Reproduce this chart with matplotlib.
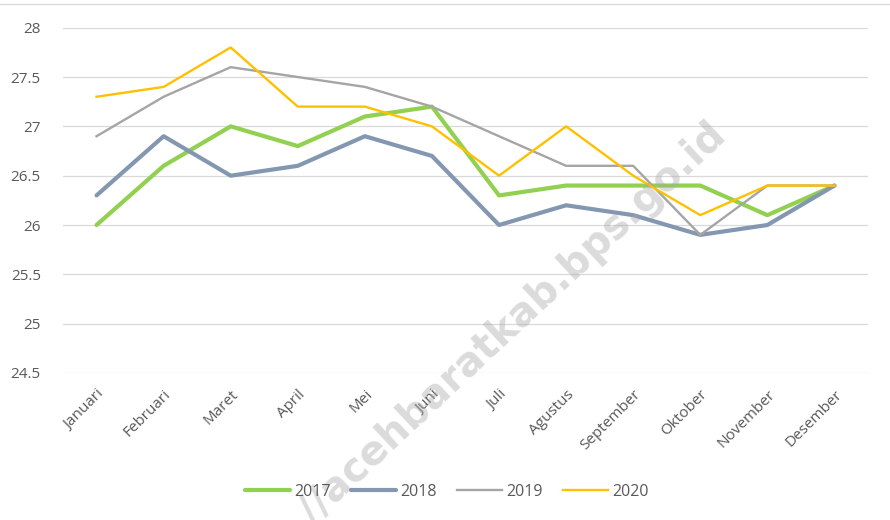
import numpy as np
import matplotlib.pyplot as plt
from matplotlib.lines import Line2D

plt.rcParams['font.family'] = ['Open Sans', 'DejaVu Sans']

months = ["Januari", "Februari", "Maret", "April", "Mei", "Juni", "Juli",
          "Agustus", "September", "Oktober", "November", "Desember"]
y2017 = [26.0, 26.6, 27.0, 26.8, 27.1, 27.2, 26.3, 26.4, 26.4, 26.4, 26.1, 26.4]
y2018 = [26.3, 26.9, 26.5, 26.6, 26.9, 26.7, 26.0, 26.2, 26.1, 25.9, 26.0, 26.4]
y2019 = [26.9, 27.3, 27.6, 27.5, 27.4, 27.2, 26.9, 26.6, 26.6, 25.9, 26.4, 26.4]
y2020 = [27.3, 27.4, 27.8, 27.2, 27.2, 27.0, 26.5, 27.0, 26.5, 26.1, 26.4, 26.4]
yticks = [24.5, 25, 25.5, 26, 26.5, 27, 27.5, 28]
ytick_labels = ["24.5", "25", "25.5", "26", "26.5", "27", "27.5", "28"]

fig = plt.figure(figsize=(8.9, 5.2), dpi=100)
ax = fig.add_axes([63 / 890, 1 - 373 / 520, 805 / 890, 345.3 / 520])

x = np.arange(len(months))
ax.plot(x, y2017, color="#92D050", lw=3.0, label="2017", zorder=3, solid_capstyle="round")
ax.plot(x, y2018, color="#8497B0", lw=3.0, label="2018", zorder=3, solid_capstyle="round")
ax.plot(x, y2019, color="#A5A5A5", lw=1.7, label="2019", zorder=3)
ax.plot(x, y2020, color="#FFC000", lw=1.7, label="2020", zorder=3)

ax.set_xlim(-0.5, len(months) - 0.5)
ax.set_ylim(24.5, 28)
ax.set_yticks(yticks)
ax.set_yticklabels(ytick_labels)
ax.set_xticks(x)
ax.set_xticklabels(months, rotation=45, ha="right", va="top", rotation_mode="anchor")
ax.tick_params(axis="both", length=0, labelsize=11, labelcolor="#595959")
ax.tick_params(axis="y", pad=16)
ax.tick_params(axis="x", pad=10)
ax.grid(axis="y", color="#D9D9D9", lw=0.9, zorder=0)
ax.set_axisbelow(True)
for s in ax.spines.values():
    s.set_visible(False)

# watermark (semi-transparent, on top)
fig.text(728 / 890, 1 - 138 / 520, "//acehbaratkab.bps.go.id", rotation=43,
         rotation_mode="anchor", ha="right", va="baseline", fontsize=29,
         family="DejaVu Sans", fontweight="bold", color="#A6A6A6", alpha=0.4, zorder=5)

# outer frame line at top
fig.add_artist(Line2D([0, 1], [1 - 4 / 520, 1 - 4 / 520], color="#D9D9D9", lw=0.9))

handles, labels = ax.get_legend_handles_labels()
fig.legend(handles, labels, loc="center", bbox_to_anchor=(447 / 890, 1 - 492 / 520),
           ncol=4, frameon=False, fontsize=11.5, handlelength=2.8, handletextpad=0.25,
           columnspacing=1.3, labelcolor="#595959")

fig.savefig("out.png", dpi=100)
